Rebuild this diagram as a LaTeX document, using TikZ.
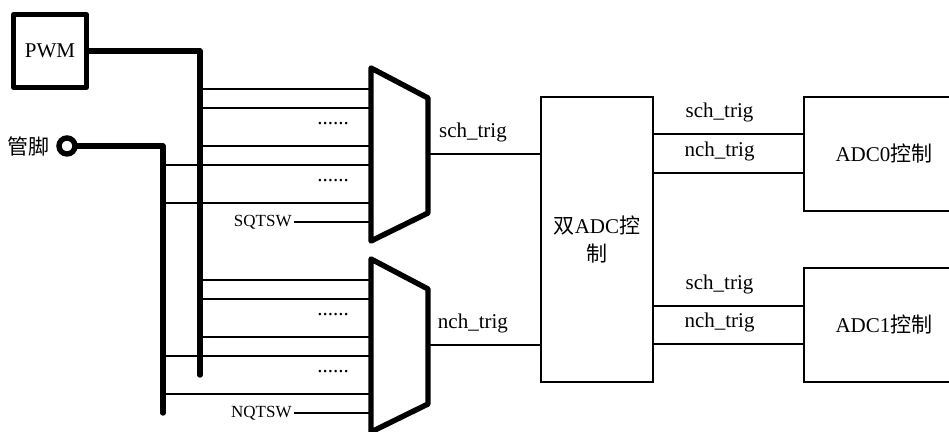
\documentclass[tikz,border=0pt]{standalone}
\usepackage{fontspec}
\setmainfont{Liberation Serif}
\newfontfamily\cjk{Noto Sans CJK SC}
\usepackage{tikz}
\usetikzlibrary{positioning}
\tikzset{
  bus/.style={line width=2.7pt, line cap=round, line join=round},
  wire/.style={line width=0.65pt},
  ctrlbox/.style={draw, line width=0.6pt, inner sep=2pt, align=center},
  trig/.style={inner sep=1pt, above=4.5pt},
  selname/.style={font=\fontsize{8.5}{9}\selectfont, inner sep=1pt, anchor=east}
}

\begin{document}
\begin{tikzpicture}[x=0.5pt, y=-0.5pt, font=\fontsize{10.5}{14}\selectfont]
  \useasboundingbox (0,0) rectangle (949,432);

  % trigger sources
  \node[draw, line width=2.4pt, line join=round, minimum width=36.5pt, minimum height=36.5pt] (pwm) at (50,51) {PWM};
  \node[circle, draw, line width=2.7pt, minimum size=8pt, inner sep=0pt] (pin) at (67,146) {};
  \node[left=2pt of pin, inner sep=1pt] (pinlbl) {\cjk 管脚};
  \coordinate (pwmbus) at (200,375);
  \coordinate (pinbus) at (163,413);
  \draw[bus] (pwm.east) -| (pwmbus);
  \draw[bus] (pin.east) -| (pinbus);

  % control blocks
  \node[ctrlbox, minimum width=56pt, minimum height=142.5pt] (dual) at (597,239.5) {{\cjk 双}ADC{\cjk 控}\\{\cjk 制}};
  \node[ctrlbox, minimum width=80pt, minimum height=57pt] (adc0) at (884,154) {ADC0{\cjk 控制}};
  \node[ctrlbox, minimum width=80pt, minimum height=57pt] (adc1) at (884,325) {ADC1{\cjk 控制}};

  % the two selectors
  \foreach \n/\s/\sel/\tr in {1/0/SQTSW/sch, 2/191/NQTSW/nch}{
    \begin{scope}[shift={(0,\s)}]
      \draw[bus] (371,68) -- (428,98) -- (428,213) -- (371,241) -- cycle;
      \coordinate (mux\n) at (428,154);
      \foreach \y in {89,108,146} \draw[wire] (pwmbus |- 0,\y) -- (371,\y);
      \foreach \y in {165,203} \draw[wire] (pinbus |- 0,\y) -- (371,\y);
      \node (dotsa\n) at (333,124) {......};
      \node (dotsb\n) at (333,181) {......};
      \node[selname] (sel\n) at (294,222) {\sel};
      \draw[wire] (sel\n.east) -- (371,222);
      \draw[wire] (mux\n) -- node[trig, pos=0.4] {\tr\_trig} (mux\n -| dual.west);
    \end{scope}
  }

  % outputs to the two ADCs
  \draw[wire] (dual.east |- 0,134) -- node[trig, pos=0.44] {sch\_trig} (adc0.west |- 0,134);
  \draw[wire] (dual.east |- 0,173) -- node[trig, pos=0.44] {nch\_trig} (adc0.west |- 0,173);
  \draw[wire] (dual.east |- 0,306) -- node[trig, pos=0.44] {sch\_trig} (adc1.west |- 0,306);
  \draw[wire] (dual.east |- 0,344) -- node[trig, pos=0.44] {nch\_trig} (adc1.west |- 0,344);
\end{tikzpicture}
\end{document}
